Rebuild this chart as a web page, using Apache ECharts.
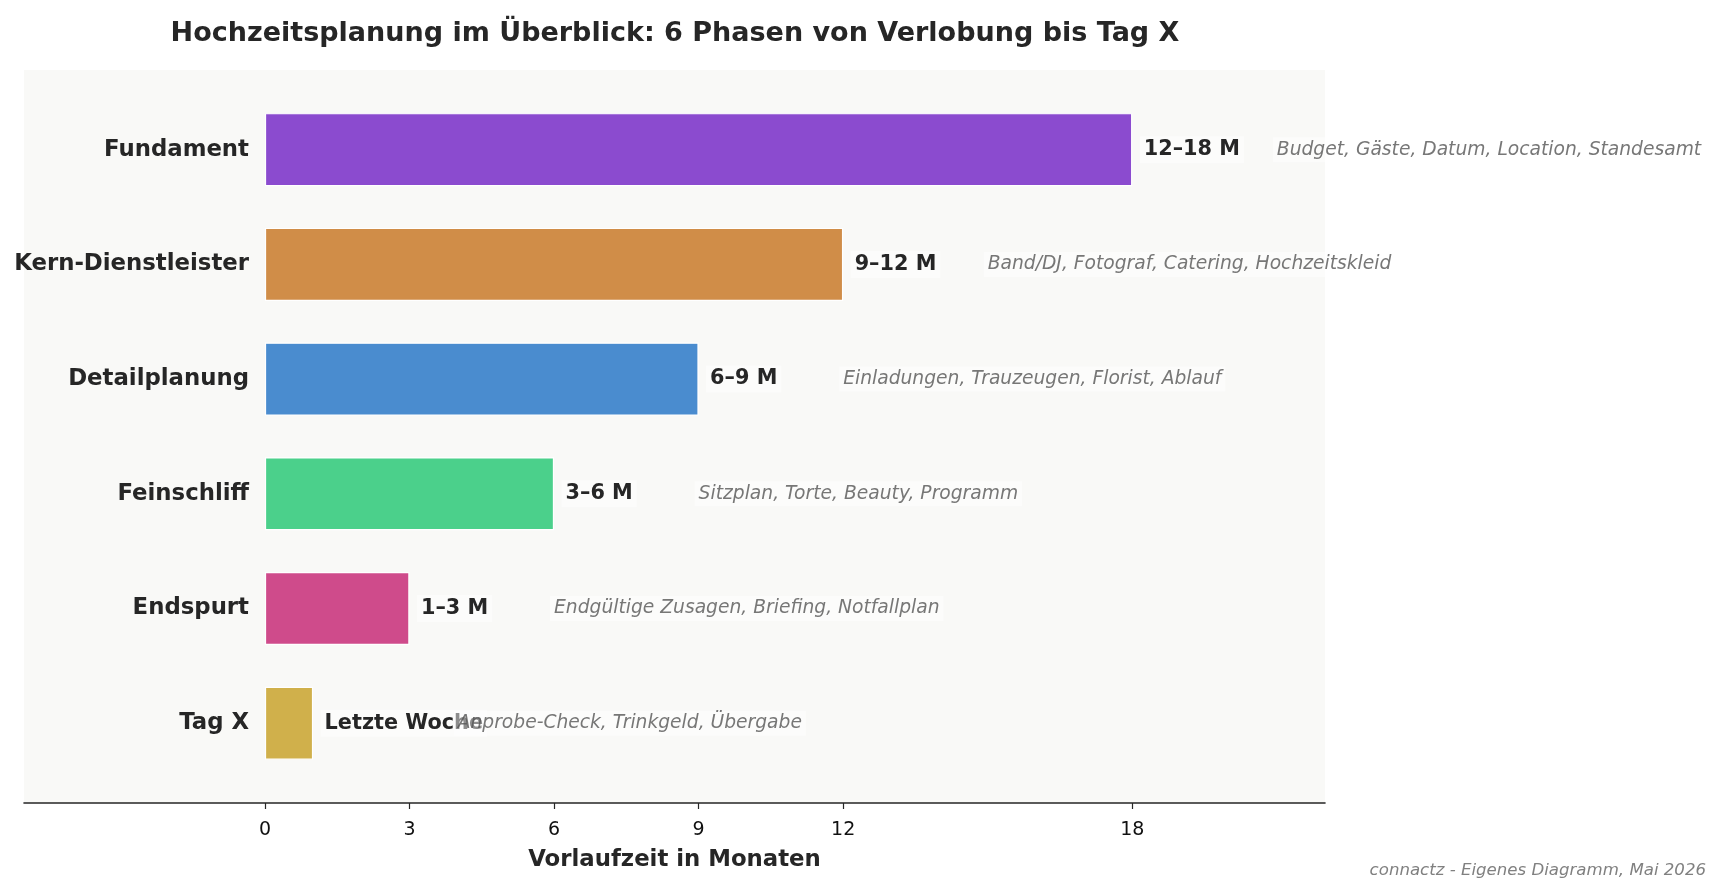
<!DOCTYPE html>
<html><head><meta charset="utf-8">
<script src="https://cdn.jsdelivr.net/npm/echarts@6/dist/echarts.min.js"></script>
<style>html,body{margin:0;padding:0;background:#fff}#c{width:1721px;height:894px}</style>
</head><body><div id="c"></div>
<script>
const categories = ['Fundament','Kern-Dienstleister','Detailplanung','Feinschliff','Endspurt','Tag X'];
const months = [18, 12, 9, 6, 3, 1];
const rangeLabels = ['12–18 M','9–12 M','6–9 M','3–6 M','1–3 M','Letzte Woche'];
const tasks = ['Budget, Gäste, Datum, Location, Standesamt','Band/DJ, Fotograf, Catering, Hochzeitskleid','Einladungen, Trauzeugen, Florist, Ablauf','Sitzplan, Torte, Beauty, Programm','Endgültige Zusagen, Briefing, Notfallplan','Anprobe-Check, Trinkgeld, Übergabe'];
const colors = ['#8b4bcf','#d08d48','#4a8ccf','#4bd08b','#cf4b8b','#d0b04b'];
const tickValues = [0, 3, 6, 9, 12, 18];
const taskOffset = 3;

const FONT = 'DejaVu Sans';
const chart = echarts.init(document.getElementById('c'));
chart.setOption({
  animation: false,
  backgroundColor: '#ffffff',
  title: {
    text: 'Hochzeitsplanung im Überblick: 6 Phasen von Verlobung bis Tag X',
    left: 670, top: 15, textAlign: 'center',
    textStyle: { fontFamily: FONT, fontWeight: 'bold', fontSize: 27, color: '#262626' }
  },
  graphic: [
    { type: 'rect', z: -10, shape: { x: 24, y: 70, width: 1301, height: 733 }, style: { fill: '#f9f9f7' }, silent: true },
    { type: 'text', right: 15, top: 862, style: { text: 'connactz - Eigenes Diagramm, Mai 2026', fontFamily: FONT, fontStyle: 'italic', fontSize: 16.6, fill: '#808080' } }
  ],
  grid: { left: 24, right: 396, top: 92.3, bottom: 113.4, containLabel: false, outerBoundsMode: 'none' },
  xAxis: {
    type: 'value', min: -5, max: 22, offset: 22.4,
    axisLine: { show: true, onZero: false, lineStyle: { color: '#262626', width: 1.6 } },
    axisTick: { show: true, customValues: tickValues, length: 6, lineStyle: { color: '#262626', width: 1.2 } },
    axisLabel: { customValues: tickValues, margin: 18, fontFamily: FONT, fontSize: 19, color: '#111' },
    splitLine: { show: false },
    name: 'Vorlaufzeit in Monaten', nameLocation: 'middle', nameGap: 46,
    nameTextStyle: { fontFamily: FONT, fontWeight: 'bold', fontSize: 22.8, color: '#262626' }
  },
  yAxis: {
    type: 'category', data: categories, inverse: true,
    axisLine: { show: false },
    axisTick: { show: false },
    axisLabel: { margin: -225, fontFamily: FONT, fontWeight: 'bold', fontSize: 22.8, color: '#262626' },
    splitLine: { show: false }
  },
  series: [
    {
      type: 'bar', barWidth: 73,
      data: months.map((v, i) => ({ value: v, itemStyle: { color: colors[i], borderColor: '#ffffff', borderWidth: 1.2 } })),
      label: {
        show: true, position: 'right', distance: 7.5,
        formatter: p => rangeLabels[p.dataIndex],
        fontFamily: FONT, fontWeight: 'bold', fontSize: 20.8, color: '#262626',
        backgroundColor: 'rgba(255,255,255,0.5)', padding: [3, 4]
      },
      z: 2
    },
    {
      type: 'scatter', symbolSize: 0, silent: true,
      data: months.map((v, i) => [v + taskOffset, i]),
      label: {
        show: true, position: 'right', distance: -4,
        formatter: p => tasks[p.dataIndex],
        fontFamily: FONT, fontStyle: 'italic', fontSize: 18.7, color: '#555555',
        backgroundColor: 'rgba(255,255,255,0.6)', padding: [3, 4]
      },
      z: 3
    }
  ]
});
</script></body></html>
